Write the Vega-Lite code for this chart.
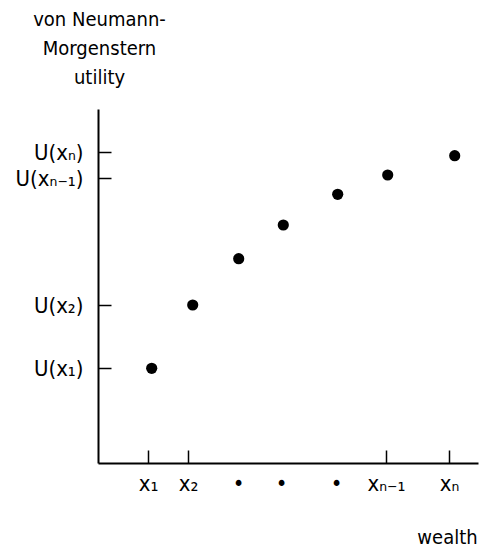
{
  "$schema": "https://vega.github.io/schema/vega-lite/v6.json",
  "width": 380,
  "height": 354,
  "autosize": {"type": "none"},
  "padding": {"left": 98, "top": 109, "right": 1, "bottom": 84},
  "background": "white",
  "config": {
    "view": {"stroke": null},
    "axis": {
      "grid": false,
      "domainColor": "black",
      "domainWidth": 2,
      "tickColor": "black",
      "tickWidth": 1.5,
      "labelColor": "black",
      "titleColor": "black",
      "labelFont": "DejaVu Sans Condensed, DejaVu Sans, sans-serif",
      "titleFont": "DejaVu Sans Condensed, DejaVu Sans, sans-serif",
      "labelFontSize": 22,
      "titleFontSize": 20,
      "titleFontWeight": "normal",
      "labelOverlap": false,
      "labelFlush": false
    }
  },
  "data": {
    "values": [
      {"wealth": 53.7, "utility": 94.7},
      {"wealth": 94.7, "utility": 158},
      {"wealth": 140.7, "utility": 204.3},
      {"wealth": 185.3, "utility": 238},
      {"wealth": 239.7, "utility": 268.7},
      {"wealth": 289.7, "utility": 288},
      {"wealth": 356.7, "utility": 307.3}
    ]
  },
  "mark": {"type": "circle", "size": 125, "color": "black", "opacity": 1},
  "encoding": {
    "x": {
      "field": "wealth",
      "type": "quantitative",
      "scale": {"domain": [0, 380], "nice": false, "zero": false},
      "axis": {
        "values": [50, 90, 140, 183, 238, 288, 351],
        "labelExpr": "datum.value == 50 ? 'x₁' : datum.value == 90 ? 'x₂' : datum.value == 288 ? 'xₙ₋₁' : datum.value == 351 ? 'xₙ' : '•'",
        "tickSize": -13,
        "tickOpacity": {"condition": {"test": "datum.value == 140 || datum.value == 183 || datum.value == 238", "value": 0}, "value": 1},
        "labelPadding": 23,
        "labelBaseline": "top",
        "title": "wealth",
        "titleX": 349,
        "titleY": 80,
        "titleBaseline": "alphabetic",
        "titleAlign": "center"
      }
    },
    "y": {
      "field": "utility",
      "type": "quantitative",
      "scale": {"domain": [0, 354], "nice": false, "zero": false},
      "axis": {
        "values": [95, 158, 285, 311],
        "labelExpr": "datum.value == 95 ? 'U(x₁)' : datum.value == 158 ? 'U(x₂)' : datum.value == 285 ? 'U(xₙ₋₁)' : 'U(xₙ)'",
        "tickSize": -13,
        "labelPadding": 28,
        "title": ["von Neumann-", "Morgenstern", "utility"],
        "titleAngle": 0,
        "titleX": 1,
        "titleY": -84,
        "titleAlign": "center",
        "titleBaseline": "alphabetic",
        "titleLineHeight": 29
      }
    }
  }
}
